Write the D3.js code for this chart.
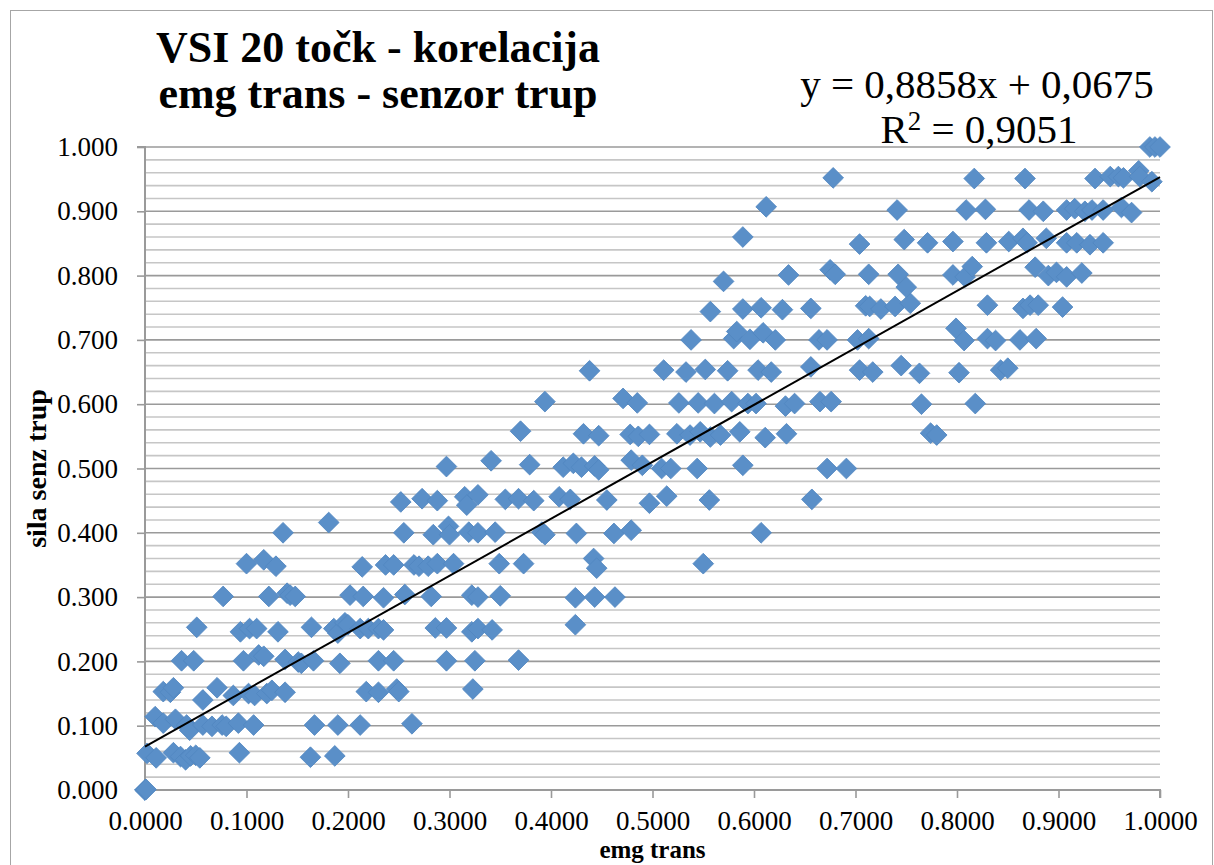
<!DOCTYPE html>
<html>
<head>
<meta charset="utf-8">
<script src="https://cdn.jsdelivr.net/npm/d3@7"></script>
<style>
  html, body { margin: 0; padding: 0; background: #fff; }
  svg { display: block; }
  text { font-family: "Liberation Serif", "Times New Roman", serif; fill: #000; }
</style>
</head>
<body>
<svg id="chart" width="1214" height="865"></svg>
<script>
// ---- data ----
const titleLines = ["VSI 20 točk - korelacija", "emg trans - senzor trup"];
const xAxisTitle = "emg trans";
const yAxisTitle = "sila senz trup";
const trendSlope = 0.8858;
const trendIntercept = 0.0675;
const trendLabel = "y = 0,8858x + 0,0675";
const r2Label = "0,9051";
const xTicks = [0, 0.1, 0.2, 0.3, 0.4, 0.5, 0.6, 0.7, 0.8, 0.9, 1.0];
const yTicks = [0, 0.1, 0.2, 0.3, 0.4, 0.5, 0.6, 0.7, 0.8, 0.9, 1.0];

const emgTrans = [
  0, 0, 0.001,
  0.002,0.011,0.028,0.035,0.040,0.045,0.050,0.054,0.093,0.163,0.187,
  0.010,0.018,0.030,0.041,0.044,0.057,0.066,0.076,0.080,0.092,0.107,0.167,0.190,0.212,0.263,
  0.018,0.025,0.028,0.057,0.071,0.087,0.102,0.108,0.120,0.125,0.138,0.218,0.230,0.248,0.250,0.323,
  0.036,0.048,0.097,0.112,0.117,0.138,0.151,0.154,0.166,0.192,0.230,0.245,0.297,0.325,0.368,
  0.051,0.094,0.103,0.110,0.131,0.164,0.186,0.190,0.197,0.200,0.212,0.220,0.230,0.235,0.286,0.297,0.322,0.328,0.342,0.424,
  0.077,0.122,0.140,0.143,0.148,0.202,0.215,0.235,0.256,0.282,0.322,0.328,0.350,0.424,0.443,0.463,
  0.100,0.117,0.129,0.214,0.237,0.245,0.265,0.270,0.279,0.288,0.304,0.349,0.373,0.442,0.445,0.550,
  0.136,0.181,0.255,0.284,0.299,0.300,0.319,0.328,0.345,0.391,0.394,0.425,0.462,0.479,0.607,
  0.252,0.273,0.288,0.315,0.317,0.328,0.355,0.368,0.383,0.408,0.419,0.455,0.497,0.514,0.556,0.657,
  0.297,0.341,0.379,0.412,0.422,0.430,0.443,0.447,0.479,0.490,0.509,0.518,0.544,0.589,0.672,0.691,
  0.370,0.432,0.447,0.478,0.486,0.497,0.524,0.537,0.547,0.557,0.567,0.586,0.611,0.632,0.774,0.780,
  0.394,0.471,0.485,0.526,0.545,0.561,0.578,0.594,0.602,0.631,0.640,0.665,0.676,0.765,0.818,
  0.438,0.511,0.533,0.552,0.574,0.604,0.617,0.656,0.704,0.717,0.745,0.763,0.802,0.843,0.850,
  0.538,0.580,0.583,0.596,0.609,0.621,0.664,0.672,0.702,0.713,0.799,0.807,0.830,0.838,0.862,0.878,
  0.557,0.589,0.607,0.628,0.656,0.710,0.714,0.725,0.739,0.754,0.830,0.865,0.872,0.880,0.904,
  0.570,0.634,0.675,0.680,0.713,0.742,0.750,0.796,0.808,0.815,0.877,0.890,0.898,0.908,0.923,
  0.589,0.704,0.748,0.771,0.796,0.829,0.851,0.865,0.869,0.888,0.908,0.918,0.931,0.944,
  0.612,0.741,0.809,0.828,0.871,0.885,0.908,0.916,0.926,0.933,0.944,0.962,0.972,
  0.678,0.817,0.867,0.936,0.951,0.959,0.964,0.979,0.980,0.992,
  0.990,0.995,1.000
];
const silaSenzTrup = [
  0, 0, 0.001,
  0.057,0.050,0.058,0.052,0.047,0.053,0.054,0.050,0.058,0.051,0.053,
  0.114,0.104,0.110,0.101,0.093,0.101,0.099,0.101,0.099,0.104,0.101,0.101,0.101,0.101,0.103,
  0.153,0.152,0.159,0.140,0.159,0.147,0.150,0.147,0.150,0.155,0.152,0.153,0.152,0.157,0.153,0.157,
  0.201,0.201,0.201,0.210,0.208,0.203,0.199,0.197,0.201,0.197,0.201,0.201,0.201,0.201,0.202,
  0.253,0.246,0.251,0.251,0.246,0.253,0.251,0.244,0.260,0.257,0.251,0.251,0.251,0.249,0.252,0.252,0.246,0.251,0.249,0.257,
  0.301,0.301,0.306,0.303,0.301,0.303,0.301,0.299,0.304,0.301,0.303,0.300,0.302,0.299,0.300,0.300,
  0.352,0.358,0.348,0.347,0.350,0.350,0.350,0.348,0.348,0.352,0.352,0.352,0.352,0.360,0.345,0.352,
  0.400,0.416,0.400,0.397,0.410,0.397,0.401,0.400,0.401,0.401,0.397,0.399,0.399,0.404,0.400,
  0.448,0.453,0.450,0.456,0.443,0.459,0.452,0.453,0.450,0.456,0.452,0.451,0.446,0.457,0.451,0.452,
  0.503,0.512,0.506,0.502,0.508,0.502,0.504,0.498,0.513,0.505,0.500,0.500,0.500,0.505,0.500,0.500,
  0.558,0.554,0.551,0.553,0.550,0.553,0.554,0.552,0.557,0.549,0.552,0.557,0.548,0.554,0.555,0.552,
  0.604,0.609,0.602,0.602,0.602,0.601,0.604,0.601,0.601,0.597,0.601,0.604,0.604,0.600,0.601,
  0.652,0.653,0.650,0.654,0.652,0.653,0.650,0.658,0.653,0.650,0.660,0.648,0.649,0.653,0.656,
  0.700,0.702,0.713,0.701,0.711,0.700,0.700,0.700,0.700,0.702,0.718,0.699,0.702,0.699,0.700,0.702,
  0.744,0.748,0.750,0.747,0.749,0.753,0.752,0.748,0.752,0.757,0.754,0.749,0.754,0.754,0.751,
  0.791,0.801,0.809,0.802,0.802,0.802,0.782,0.801,0.798,0.814,0.813,0.800,0.805,0.798,0.804,
  0.860,0.849,0.856,0.851,0.853,0.851,0.853,0.858,0.851,0.858,0.851,0.851,0.848,0.851,
  0.907,0.902,0.902,0.903,0.902,0.900,0.902,0.904,0.900,0.902,0.902,0.906,0.898,
  0.952,0.951,0.951,0.951,0.954,0.954,0.952,0.963,0.954,0.946,
  1.000,1.000,1.000
];

// ---- layout ----
const svg = d3.select("#chart");
const plot = { left: 145, right: 1160, top: 147, bottom: 790 };
const x = d3.scaleLinear().domain([0, 1]).range([plot.left, plot.right]);
const y = d3.scaleLinear().domain([0, 1]).range([plot.bottom, plot.top]);

// outer chart border
svg.append("rect")
  .attr("x", 10.5).attr("y", 10.5)
  .attr("width", 1202).attr("height", 880)
  .attr("fill", "none").attr("stroke", "#a6a6a6").attr("stroke-width", 1);

// gridlines: minor every 0.02, major every 0.1
const minor = d3.range(0, 51).map(i => i / 50).filter((v, i) => i % 5 !== 0);
svg.append("g").selectAll("line").data(minor).join("line")
  .attr("x1", plot.left).attr("x2", plot.right)
  .attr("y1", d => y(d)).attr("y2", d => y(d))
  .attr("stroke", "#c6c6c6").attr("stroke-width", 1.6);
svg.append("g").selectAll("line").data(yTicks).join("line")
  .attr("x1", plot.left).attr("x2", plot.right)
  .attr("y1", d => y(d)).attr("y2", d => y(d))
  .attr("stroke", "#9a9a9a").attr("stroke-width", 1.6);

// axes
const yAxis = d3.axisLeft(y).tickValues(yTicks).tickFormat(d3.format(".3f"))
  .tickSize(8).tickPadding(19);
const gy = svg.append("g").attr("transform", `translate(${plot.left},0)`).call(yAxis);
const xAxis = d3.axisBottom(x).tickValues(xTicks).tickFormat(d3.format(".4f"))
  .tickSize(8).tickPadding(13);
const gx = svg.append("g").attr("transform", `translate(0,${plot.bottom})`).call(xAxis);
[gx, gy].forEach(g => {
  g.select(".domain").attr("stroke", "#9a9a9a").attr("stroke-width", 2);
  g.selectAll(".tick line").attr("stroke", "#9a9a9a").attr("stroke-width", 1.6);
  g.selectAll(".tick text")
    .style("font-family", '"Liberation Serif", serif')
    .style("font-size", "27px").attr("fill", "#000");
});
gx.select(".domain").attr("d", `M${plot.left},8V0H${plot.right}V8`);
gy.select(".domain").attr("d", `M-8,${plot.bottom}H0V${plot.top}H-8`);

// points (diamonds)
const pts = emgTrans.map((v, i) => ({ x: v, y: silaSenzTrup[i] }));
const diamond = d3.symbol().type(d3.symbolSquare).size(215);
svg.append("g").selectAll("path").data(pts).join("path")
  .attr("d", diamond)
  .attr("transform", d => `translate(${x(d.x)},${y(d.y)}) rotate(45)`)
  .attr("fill", "#5a8fc8")
  .attr("stroke", "#5186c0").attr("stroke-width", 0.8);

// linear trendline
svg.append("line")
  .attr("x1", x(0)).attr("y1", y(trendIntercept))
  .attr("x2", x(1)).attr("y2", y(trendSlope * 1 + trendIntercept))
  .attr("stroke", "#000").attr("stroke-width", 2);

// title
const title = svg.append("text")
  .attr("text-anchor", "middle")
  .style("font-size", "44px").style("font-weight", "bold");
titleLines.forEach((t, i) => {
  title.append("tspan").attr("x", 378).attr("y", 62 + i * 46).text(t);
});

// trendline equation
svg.append("text").attr("x", 977).attr("y", 98).attr("text-anchor", "middle")
  .style("font-size", "41px").text(trendLabel);
const r2 = svg.append("text").attr("x", 979).attr("y", 143).attr("text-anchor", "middle")
  .style("font-size", "41px");
r2.append("tspan").text("R");
r2.append("tspan").attr("dy", -13).style("font-size", "27px").text("2");
r2.append("tspan").attr("dy", 13).text(" = " + r2Label);

// axis titles
svg.append("text").attr("x", (plot.left + plot.right) / 2).attr("y", 858)
  .attr("text-anchor", "middle")
  .style("font-size", "25px").style("font-weight", "bold").text(xAxisTitle);
svg.append("text")
  .attr("transform", `translate(46,${(plot.top + plot.bottom) / 2}) rotate(-90)`)
  .attr("text-anchor", "middle")
  .style("font-size", "28px").style("font-weight", "bold").text(yAxisTitle);
</script>
</body>
</html>
